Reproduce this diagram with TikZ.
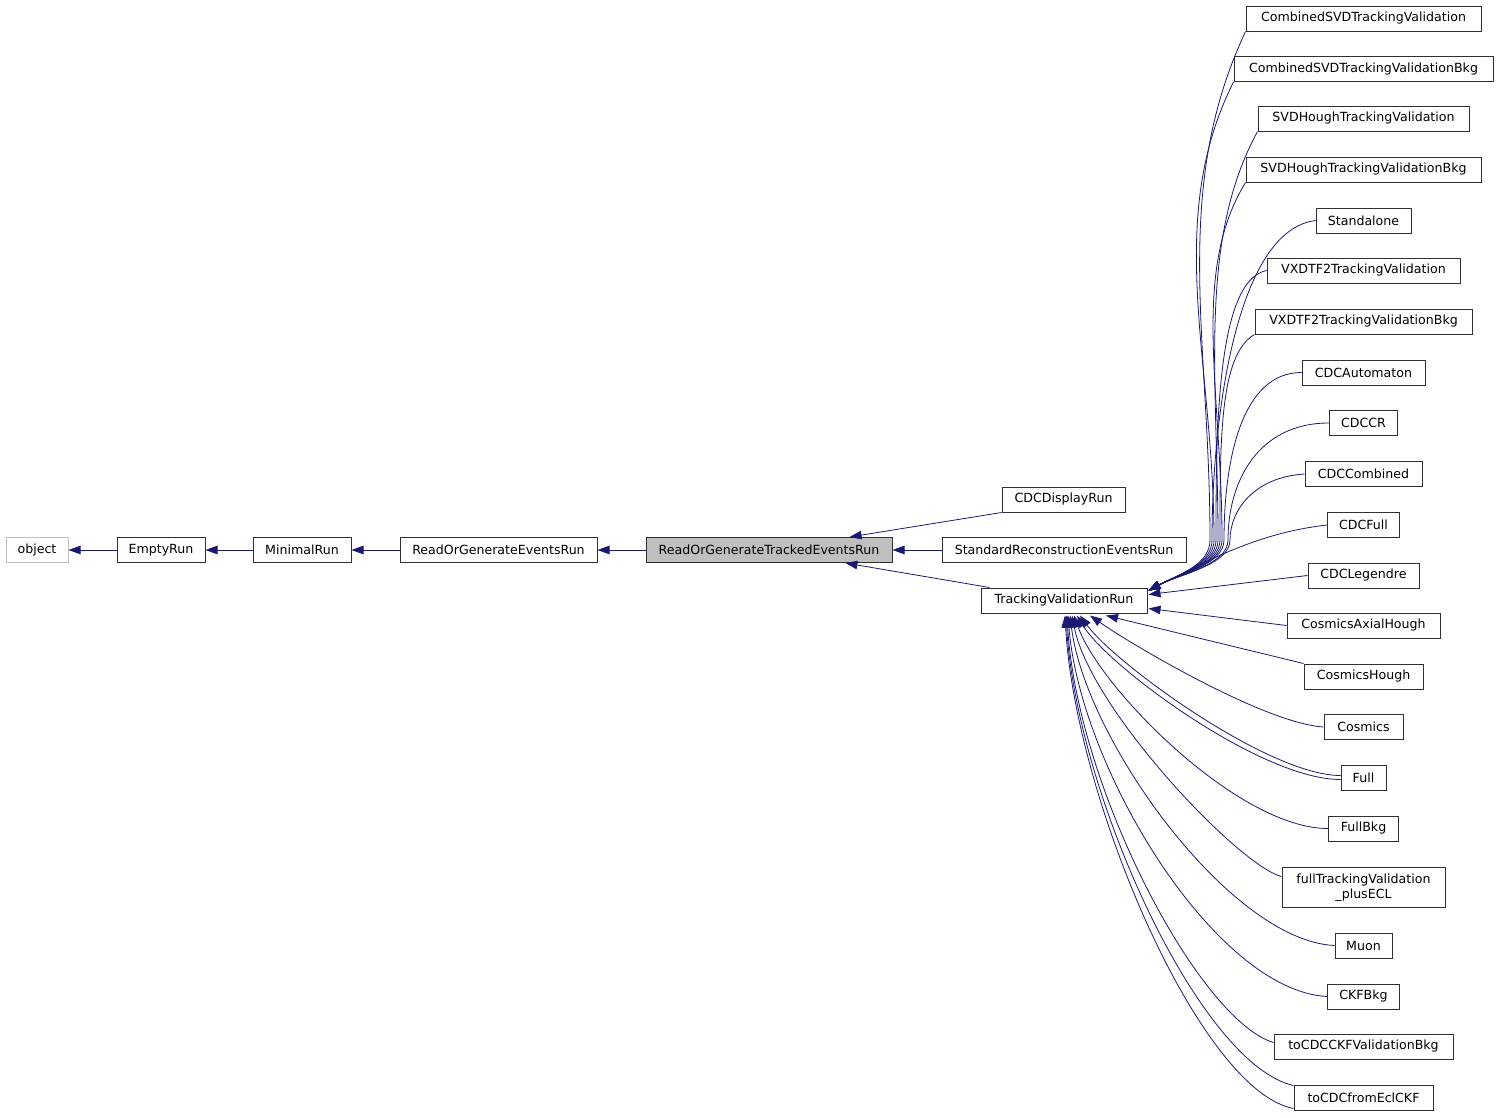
\documentclass[tikz,border=0pt]{standalone}
\usepackage{fontspec}
\newfontfamily\dxfont{DejaVu Sans}
\usetikzlibrary{arrows.meta,calc}
\definecolor{dxedge}{HTML}{191970}
\definecolor{dxgray}{HTML}{BFBFBF}
\definecolor{dxframe}{HTML}{303030}

\begin{document}
\begin{tikzpicture}[x=1pt,y=1pt,
    cls/.style={draw=dxframe,line width=1pt,inner xsep=0pt,inner ysep=0pt,
      minimum height=25pt,font=\dxfont\fontsize{12.6}{15}\selectfont},
    edge/.style={draw=dxedge,line width=0.8pt,-{Triangle[length=12pt,width=8.5pt]}}]
    \useasboundingbox (0,0) rectangle (1499,-1117);
    % base chain
    \node[cls,draw=dxgray,minimum width=62pt] (obj) at (37,-550) {object};
    \node[cls,minimum width=88pt] (emptyrun) at (161,-550) {EmptyRun};
    \node[cls,minimum width=98pt] (minimalrun) at (302,-550) {MinimalRun};
    \node[cls,minimum width=197pt] (rgerun) at (498.5,-550) {ReadOrGenerateEventsRun};
    \node[cls,fill=dxgray,minimum width=246pt] (rgterun) at (769,-550) {ReadOrGenerateTrackedEventsRun};
    % middle column
    \node[cls,minimum width=123pt] (cdcdisplay) at (1063.5,-499.5) {CDCDisplayRun};
    \node[cls,minimum width=244pt] (stdreco) at (1064,-550) {StandardReconstructionEventsRun};
    \node[cls,minimum width=166pt] (tvrun) at (1064,-600.5) {TrackingValidationRun};
    % right column (children of TrackingValidationRun)
    \foreach \nm/\y/\w/\lab in {csv/18.5/235/CombinedSVDTrackingValidation,
        csvb/69/259/CombinedSVDTrackingValidationBkg,
        svdh/118.5/211/SVDHoughTrackingValidation,
        svdhb/169.5/235/SVDHoughTrackingValidationBkg,
        stand/220.5/95/Standalone,
        vxd/270.5/193/VXDTF2TrackingValidation,
        vxdb/321.5/217/VXDTF2TrackingValidationBkg,
        cdcauto/372.5/123/CDCAutomaton,
        cdccr/423/68/CDCCR,
        cdccomb/474/117/CDCCombined,
        cdcfull/525/72/CDCFull,
        cdcleg/575.5/111/CDCLegendre,
        cosah/625.5/153/CosmicsAxialHough,
        cosh/676.5/119/CosmicsHough,
        cosmics/727/79/Cosmics,
        full/777.5/45/Full,
        fullbkg/828.5/70/FullBkg,
        muon/945.5/57/Muon,
        ckfbkg/996.5/72/CKFBkg,
        tocdcckf/1046.5/179/toCDCCKFValidationBkg,
        tocdcfrom/1097.5/139/toCDCfromEclCKF}{
      \node[cls,minimum width=\w pt] (\nm) at (1363.5,-\y) {\lab};
    }
    \node[cls,minimum width=163pt,minimum height=40pt,align=center] (fulltv) at (1363.5,-887.5)
      {fullTrackingValidation\\\_plusECL};
    % inheritance, base chain
    \draw[edge] (emptyrun) -- (obj);
    \draw[edge] (minimalrun) -- (emptyrun);
    \draw[edge] (rgerun) -- (minimalrun);
    \draw[edge] (rgterun) -- (rgerun);
    \draw[edge] (cdcdisplay.south west) -- (rgterun);
    \draw[edge] (stdreco) -- (rgterun);
    \draw[edge] ($(tvrun.north west)+(9,0)$) -- (rgterun);
    % upper children: down the bundle, then into the right corner
    \foreach \nm/\anc/\ax/\ay/\h/\wx in {csv/south west/-75/-160/200/1210,
        csvb/south west/-70/-140/180/1214,
        svdh/south west/-60/-110/160/1218,
        svdhb/south west/-55/-90/150/1222,
        stand/west/-80/-10/120/1212,
        vxd/west/-50/-10/110/1216,
        vxdb/south west/-35/-20/100/1220,
        cdcauto/west/-60/0/80/1224,
        cdccr/west/-70/0/60/1228,
        cdccomb/west/-50/-3/30/1230}{
      \draw[edge] (\nm.\anc) .. controls +(\ax,\ay) and +(0,\h) .. (\wx,-540)
        .. controls +(0,-25) and +(30,16) .. ($(tvrun.north east)+(1,-3)$);
    }
    \draw[edge] (cdcfull.west) .. controls +(-70,-8) and +(60,30) .. ($(tvrun.north east)+(1,-3)$);
    \draw[edge] (cdcleg.west) -- ($(tvrun.east)+(1,6)$);
    \draw[edge] (cosah.west) -- ($(tvrun.east)+(1,-8)$);
    \draw[edge] (cosh.north west) -- ($(tvrun.south)+(42,-2)$);
    % lower children, into the bottom side
    \foreach \nm/\anc/\sy/\ax/\ay/\bx/\by/\ex in {cosmics/west/0/-60/4/40/-28/26,
        full/west/2/-72/0/35/-48/16,
        full/west/-2/-80/0/30/-50/13,
        fullbkg/west/0/-90/0/26/-73/10,
        fulltv/west/11/-43/11/18/-93/8,
        muon/west/0/-105/5/15/-123/6,
        ckfbkg/west/0/-112/6/12/-153/4,
        tocdcckf/west/4/-74/22/10/-173/3,
        tocdcfrom/north west/-1/-94/21/10/-178/2,
        tocdcfrom/south west/2/-94/18/10/-183/1}{
      \draw[edge] ($(\nm.\anc)+(0,\sy)$) .. controls +(\ax,\ay) and +(\bx,\by) .. ($(tvrun.south)+(\ex,-2)$);
    }
\end{tikzpicture}
\end{document}
